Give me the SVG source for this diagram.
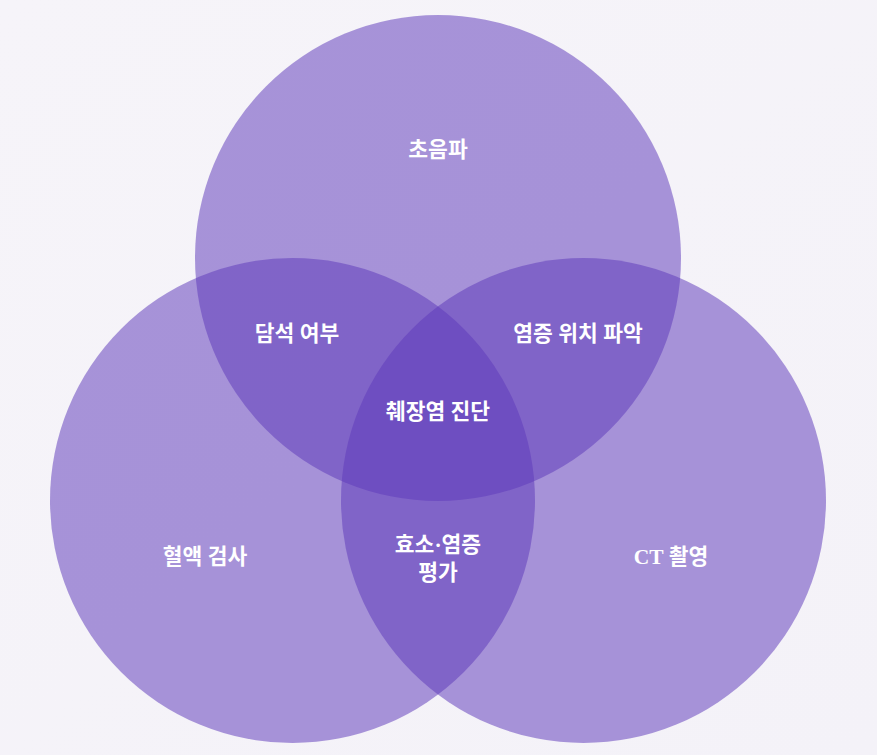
<svg xmlns="http://www.w3.org/2000/svg" width="877" height="755" viewBox="0 0 877 755">
<defs>
<linearGradient id="bg" x1="0" y1="0" x2="1" y2="1">
<stop offset="0" stop-color="#f6f4f9"/>
<stop offset="1" stop-color="#f4f2f8"/>
</linearGradient>
<style>
.set{fill:#5d39ba;fill-opacity:0.52}
.lbl{fill:#ffffff;font-family:"Liberation Serif","Noto Sans CJK KR",serif;font-size:21.5px;font-weight:bold;text-anchor:middle}
</style>
</defs>
<rect width="877" height="755" fill="url(#bg)"/>
<g id="circle-ultrasound"><circle class="set" cx="438" cy="258" r="243"/></g>
<g id="circle-blood"><circle class="set" cx="292.5" cy="500.5" r="242.5"/></g>
<g id="circle-ct"><circle class="set" cx="583.5" cy="500.5" r="242.5"/></g>
<g id="labels">
<text class="lbl" x="438" y="157">초음파</text>
<text class="lbl" x="297" y="341">담석 여부</text>
<text class="lbl" x="578" y="341">염증 위치 파악</text>
<text class="lbl" x="438" y="419">췌장염 진단</text>
<text class="lbl" x="205" y="564">혈액 검사</text>
<text class="lbl" x="438" y="552">효소·염증</text>
<text class="lbl" x="438" y="580">평가</text>
<text class="lbl" x="671" y="564">CT 촬영</text>
</g>
</svg>
